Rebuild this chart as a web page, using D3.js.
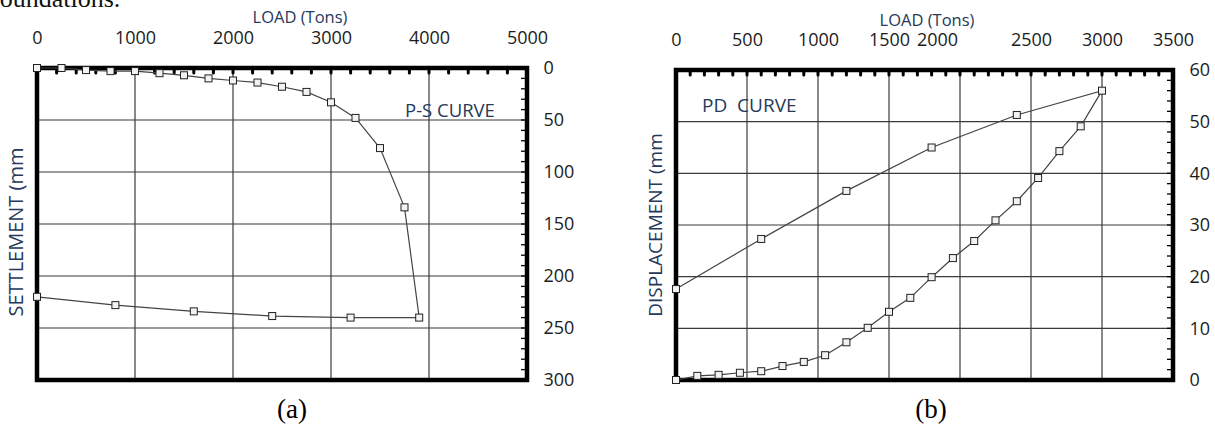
<!DOCTYPE html>
<html>
<head>
<meta charset="utf-8">
<script src="https://cdn.jsdelivr.net/npm/d3@7"></script>
<style>
  html, body { margin: 0; padding: 0; background: #fff; }
  svg { display: block; }
  text { font-family: "Open Sans", sans-serif; }
</style>
</head>
<body>
<svg id="chart" width="1215" height="426"></svg>
<script>
// ---------- Data ----------
// (a) P-S curve : load (Tons) vs settlement (mm)
const psLoad       = [0, 250, 500, 750, 1000, 1250, 1500, 1750, 2000, 2250, 2500, 2750, 3000, 3250, 3500, 3750, 3900, 3200, 2400, 1600, 800, 0];
const psSettlement = [0, 0, 2, 3, 3, 5, 7, 10, 12, 14, 18, 23, 33, 48, 77, 134, 240, 240, 238.5, 234, 228, 220];

// (b) PD curve : load (Tons) vs displacement (mm)
const pdLoad         = [0, 150, 300, 450, 600, 750, 900, 1050, 1200, 1350, 1500, 1650, 1800, 1950, 2100, 2250, 2400, 2550, 2700, 2850, 3000, 2400, 1800, 1200, 600, 0];
const pdDisplacement = [0, 0.8, 1.0, 1.4, 1.7, 2.7, 3.5, 4.8, 7.3, 10.1, 13.2, 15.9, 19.9, 23.6, 26.9, 30.9, 34.6, 39.1, 44.3, 49.1, 56, 51.3, 45, 36.6, 27.3, 17.6];

// Tick labels
const psLoadTicks   = [0, 1000, 2000, 3000, 4000, 5000];
const psSettleTicks = [0, 50, 100, 150, 200, 250, 300];
const pdLoadTicks   = [0, 500, 1000, 1500, 2000, 2500, 3000, 3500];
const pdDispTicks   = [0, 10, 20, 30, 40, 50, 60];

const svg = d3.select("#chart");
svg.append("rect").attr("width", 1215).attr("height", 426).attr("fill", "#fff");

// cropped text line from the page above
svg.append("text")
  .attr("x", -9).attr("y", 7)
  .style("font-family", "'Liberation Serif', serif")
  .style("font-size", "26px")
  .attr("fill", "#111")
  .text("foundations.");

const titleColor = "#26395a";
const tickColor = "#1c1c1c";

function panel(cfg) {
  const g = svg.append("g");
  const x = d3.scaleLinear().domain(cfg.xDomain).range(cfg.xRange);
  const y = d3.scaleLinear().domain(cfg.yDomain).range(cfg.yRange);
  const [xl, xr] = cfg.xRange;
  const yt = Math.min(...cfg.yRange), yb = Math.max(...cfg.yRange);

  // grid
  g.append("g").selectAll("line").data(cfg.xTicks.slice(1, -1)).join("line")
    .attr("x1", d => x(d)).attr("x2", d => x(d))
    .attr("y1", yt).attr("y2", yb)
    .attr("stroke", "#3a3a3a").attr("stroke-width", 1.2);
  g.append("g").selectAll("line").data(cfg.yTicks.slice(1, -1)).join("line")
    .attr("y1", d => y(d)).attr("y2", d => y(d))
    .attr("x1", xl).attr("x2", xr)
    .attr("stroke", "#3a3a3a").attr("stroke-width", 1.2);

  // top minor ticks (round bumps)
  g.append("g").selectAll("line").data(d3.range(cfg.xDomain[0], cfg.xDomain[1] + 1e-9, cfg.xMinor)).join("line")
    .attr("x1", d => x(d)).attr("x2", d => x(d))
    .attr("y1", yt).attr("y2", yt + 5)
    .attr("stroke", "#000").attr("stroke-width", 3).attr("stroke-linecap", "round");

  // right minor ticks
  const yMin = Math.min(...cfg.yDomain), yMax = Math.max(...cfg.yDomain);
  g.append("g").selectAll("line").data(d3.range(yMin, yMax + 1e-9, cfg.yMinor)).join("line")
    .attr("y1", d => y(d)).attr("y2", d => y(d))
    .attr("x1", xr - 6).attr("x2", xr)
    .attr("stroke", "#000").attr("stroke-width", 1.3);

  // frame
  g.append("rect")
    .attr("x", xl).attr("y", yt).attr("width", xr - xl).attr("height", yb - yt)
    .attr("fill", "none").attr("stroke", "#000").attr("stroke-width", 4.5);

  // top axis labels
  const top = g.append("g").attr("transform", `translate(0,${yt})`)
    .call(d3.axisTop(x).tickValues(cfg.xTicks).tickSize(0).tickPadding(24.5).tickFormat(d3.format("d")));
  top.select(".domain").remove();
  top.selectAll("text").style("font-size", "18px").style("font-family", "'Open Sans', sans-serif").attr("fill", tickColor);
  if (cfg.shiftLabel) {
    top.selectAll(".tick").filter(d => d === cfg.shiftLabel.value).select("text").attr("dx", cfg.shiftLabel.dx);
  }

  // right axis labels
  const right = g.append("g").attr("transform", `translate(${xr},0)`)
    .call(d3.axisRight(y).tickValues(cfg.yTicks).tickSize(0).tickPadding(16.5).tickFormat(d3.format("d")));
  right.select(".domain").remove();
  right.selectAll("text").style("font-size", "18px").style("font-family", "'Open Sans', sans-serif").attr("fill", tickColor);

  // x title
  g.append("text").attr("x", cfg.xTitlePos[0]).attr("y", cfg.xTitlePos[1])
    .attr("text-anchor", "middle").style("font-size", "16.5px").attr("fill", titleColor)
    .text("LOAD (Tons)");

  // y title
  g.append("text")
    .attr("transform", `translate(${cfg.yTitlePos[0]},${cfg.yTitlePos[1]}) rotate(-90)`)
    .attr("text-anchor", "middle").attr("dominant-baseline", "central")
    .style("font-size", cfg.yTitleSize).attr("fill", titleColor)
    .text(cfg.yTitle);

  // curve label
  g.append("text").attr("x", cfg.labelPos[0]).attr("y", cfg.labelPos[1])
    .style("font-size", cfg.labelSize).style("white-space", "pre").attr("fill", titleColor)
    .text(cfg.label);

  // line + markers
  const pts = cfg.xs.map((v, i) => [v, cfg.ys[i]]);
  g.append("path").datum(pts)
    .attr("d", d3.line().x(d => x(d[0])).y(d => y(d[1])))
    .attr("fill", "none").attr("stroke", "#444").attr("stroke-width", 1.2);
  g.append("g").selectAll("rect").data(pts).join("rect")
    .attr("x", d => x(d[0]) - 3.5).attr("y", d => y(d[1]) - 3.5)
    .attr("width", 7).attr("height", 7)
    .attr("fill", "#f2f2f2").attr("stroke", "#222").attr("stroke-width", 1);

  // caption
  svg.append("text").attr("x", cfg.capPos[0]).attr("y", cfg.capPos[1])
    .attr("text-anchor", "middle")
    .style("font-family", "'Liberation Serif', serif").style("font-size", "27px")
    .attr("fill", "#000").text(cfg.caption);
}

panel({
  xDomain: [0, 5000], xRange: [37, 527],
  yDomain: [0, 300], yRange: [68, 380],
  xTicks: psLoadTicks, yTicks: psSettleTicks,
  xMinor: 200, yMinor: 10,
  xs: psLoad, ys: psSettlement,
  xTitlePos: [300, 22.5],
  yTitle: "SETTLEMENT (mm", yTitlePos: [15, 232], yTitleSize: "20px",
  label: "P-S CURVE", labelPos: [405, 117], labelSize: "18.5px",
  caption: "(a)", capPos: [292, 418]
});

panel({
  xDomain: [0, 3500], xRange: [676, 1173],
  yDomain: [0, 60], yRange: [380, 70],
  xTicks: pdLoadTicks, yTicks: pdDispTicks,
  xMinor: 100, yMinor: 2,
  xs: pdLoad, ys: pdDisplacement,
  xTitlePos: [927, 25.5],
  yTitle: "DISPLACEMENT (mm", yTitlePos: [655, 225], yTitleSize: "19px",
  label: "PD  CURVE", labelPos: [702, 112], labelSize: "19px",
  caption: "(b)", capPos: [931, 418],
  shiftLabel: { value: 2000, dx: -23 }
});
</script>
</body>
</html>
